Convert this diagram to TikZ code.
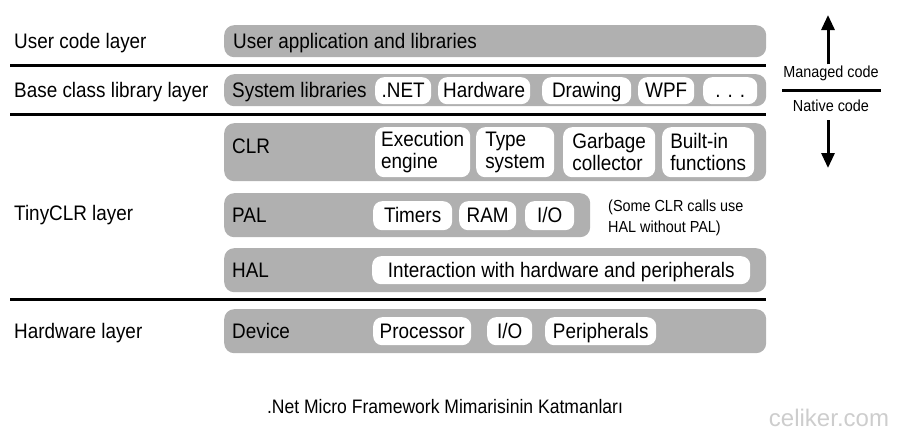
\documentclass[tikz,border=0pt]{standalone}
\usepackage{fontspec}
\setmainfont[FakeStretch=0.9]{Liberation Sans}
\newfontfamily\markfont{Liberation Sans}
\usetikzlibrary{arrows.meta,positioning}
\definecolor{boxgray}{RGB}{176,176,176}
\definecolor{markgray}{RGB}{205,205,205}
\newcommand{\bigtext}{\fontsize{21}{22}\selectfont}
\newcommand{\smalltext}{\fontsize{16}{21}\selectfont}

\begin{document}
\begin{tikzpicture}[x=1pt,y=-1pt,>={Triangle[length=15pt,width=13pt]},
  every node/.style={inner sep=0pt,font=\bigtext},
  oneline/.style={text height=16pt,text depth=2pt},
  rowbox/.style={fill=boxgray,rounded corners=10pt,anchor=north west},
  twoline/.style={fill=white,rounded corners=9pt,anchor=north west,align=left},
  pill/.style={twoline,oneline},
  layer/.style={anchor=west,oneline},
  rule/.style={line width=3pt}]
  \useasboundingbox (0,0) rectangle (898,434);

  % layer names
  \node[layer] (usr) at (14,41) {User code layer};
  \node[layer] (bcl) at (14,90) {Base class library layer};
  \node[layer] (tiny) at (14,213) {TinyCLR layer};
  \node[layer] (hw) at (14,331) {Hardware layer};

  % separating rules
  \coordinate (r1l) at (10,65);  \coordinate (r1r) at (766,65);
  \coordinate (r2l) at (10,114); \coordinate (r2r) at (766,114);
  \coordinate (r3l) at (10,299); \coordinate (r3r) at (766,299);
  \draw[rule] (r1l) -- (r1r);
  \draw[rule] (r2l) -- (r2r);
  \draw[rule] (r3l) -- (r3r);

  % user code
  \node[rowbox,minimum width=542,minimum height=32] (app) at (224,25) {};
  \node[layer,right=9pt of app.west] (appt) {User application and libraries};

  % base class library
  \node[rowbox,minimum width=542,minimum height=32] (sys) at (224,74) {};
  \node[layer,right=8pt of sys.west] (syst) {System libraries};
  \node[pill,minimum width=56,minimum height=27] (net) at (375,77) {.NET};
  \node[pill,minimum width=92,minimum height=27] (hwlib) at (438,77) {Hardware};
  \node[pill,minimum width=89,minimum height=27] (draw) at (542,77) {Drawing};
  \node[pill,minimum width=56,minimum height=27] (wpf) at (638,77) {WPF};
  \node[pill,minimum width=54,minimum height=27] (more) at (703,77) {. . .};

  % CLR
  \node[rowbox,minimum width=542,minimum height=58] (clr) at (224,123) {};
  \node[layer,right=8pt of clr.west,yshift=6pt] (clrt) {CLR};
  \node[twoline,minimum width=95,minimum height=50] (exec) at (375,127) {Execution\\engine};
  \node[twoline,minimum width=78,minimum height=50] (type) at (476,127) {Type\\system};
  \node[twoline,minimum width=92,minimum height=50] (gc) at (563,127) {Garbage\\collector};
  \node[twoline,minimum width=92,minimum height=50] (bif) at (662,127) {Built-in\\functions};

  % PAL
  \node[rowbox,minimum width=366,minimum height=44] (pal) at (224,193) {};
  \node[layer,right=8pt of pal.west] (palt) {PAL};
  \node[pill,minimum width=79,minimum height=29] (tmr) at (373,201) {Timers};
  \node[pill,minimum width=57,minimum height=29] (ram) at (459,201) {RAM};
  \node[pill,minimum width=49,minimum height=29] (pio) at (525,201) {I/O};
  \node[anchor=west,align=left,font=\smalltext] (note) at (608,218) {(Some CLR calls use\\HAL without PAL)};

  % HAL
  \node[rowbox,minimum width=542,minimum height=44] (hal) at (224,248) {};
  \node[layer,right=8pt of hal.west] (halt) {HAL};
  \node[pill,minimum width=378,minimum height=28] (inter) at (372,256) {Interaction with hardware and peripherals};

  % device
  \node[rowbox,minimum width=542,minimum height=44] (dev) at (224,309) {};
  \node[layer,right=8pt of dev.west] (devt) {Device};
  \node[pill,minimum width=98,minimum height=28] (cpu) at (373,317) {Processor};
  \node[pill,minimum width=45,minimum height=28] (dio) at (487,317) {I/O};
  \node[pill,minimum width=111,minimum height=28] (per) at (545,317) {Peripherals};

  % managed / native
  \node[font=\smalltext] (managed) at (831,73) {Managed code};
  \node[font=\smalltext] (native) at (831,106) {Native code};
  \coordinate (sepl) at (782,90); \coordinate (sepr) at (881,90);
  \draw[rule] (sepl) -- (sepr);
  \coordinate (mtop) at (828,15);
  \coordinate (nbot) at (828,168);
  \draw[->,rule] (managed.north) ++(-3,-1) coordinate (mstart) -- (mtop);
  \draw[->,rule] (native.south) ++(-3,8) coordinate (nstart) -- (nbot);

  % caption and mark
  \node[font=\fontsize{19.5}{21}\selectfont] (cap) at (445,407) {.Net Micro Framework Mimarisinin Katmanları};
  \node[font=\markfont\fontsize{24}{26}\selectfont,text=markgray] (mark) at (829,418) {celiker.com};
\end{tikzpicture}
\end{document}
